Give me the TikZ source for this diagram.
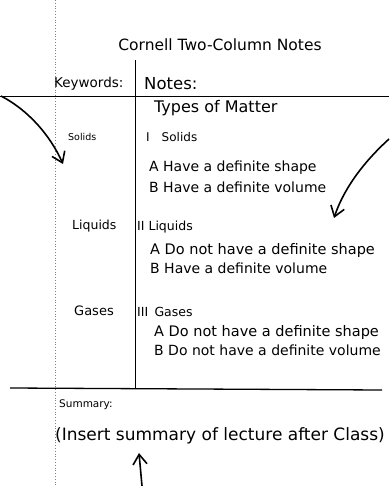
\documentclass[tikz,border=0pt]{standalone}
\usepackage{xcolor}
\usepackage{fontspec}
\setmainfont{DejaVu Sans}
\usepackage{tikz}
\usetikzlibrary{arrows.meta}

\begin{document}
\begin{tikzpicture}[x=1pt,y=-1pt,
		note/.style={anchor=west,inner sep=0pt,font=\fontsize{14}{16}\selectfont},
		keyword/.style={anchor=west,inner sep=0pt,font=\fontsize{10.5}{12}\selectfont},
		rule/.style={line width=1pt},
		pointer/.style={line width=1.6pt,-{Straight Barb[length=10pt,width=14pt,line width=1.6pt]}}]
		\useasboundingbox (0,0) rectangle (391,486);
		% margin line
		\draw[gray,dotted,line width=0.8pt] (55,0) -- (55,486);
		% title
		\node[font=\fontsize{15.5}{17}\selectfont] (title) at (220,45) {Cornell Two-Column Notes};
		% column headings
		\node[note,font=\fontsize{13.5}{15}\selectfont] (keywords) at (54,84) {Keywords:};
		\node[note,font=\fontsize{16.5}{18}\selectfont] (notes) at (144,84) {Notes:};
		% lines
		\coordinate (topL) at (0,97);
		\coordinate (topR) at (389,97);
		\coordinate (colT) at (135,60);
		\coordinate (colB) at (135,388);
		\coordinate (botL) at (10,388);
		\coordinate (botR) at (382,390);
		\draw[rule] (topL) -- (topR);
		\draw[rule] (colT) -- (colB);
		\draw[rule,line width=1.3pt] (botL) -- (botR);
		% notes column
		\node[note,font=\fontsize{16}{18}\selectfont] (types) at (154,108) {Types of Matter};
		\node[keyword,font=\fontsize{9.5}{11}\selectfont] (kSolids) at (68,137) {Solids};
		\node[note,font=\fontsize{12}{14}\selectfont] (solids) at (146,137) {I\quad Solids};
		\node[note] (solidsA) at (149,168) {A Have a definite shape};
		\node[note] (solidsB) at (149,187) {B Have a definite volume};
		\node[keyword,font=\fontsize{12.5}{14}\selectfont] (kLiquids) at (72,226) {Liquids};
		\node[note,font=\fontsize{12.5}{14}\selectfont] (liquids) at (137,227) {II Liquids};
		\node[note,font=\fontsize{14.5}{16}\selectfont] (liquidsA) at (150,250) {A Do not have a definite shape};
		\node[note] (liquidsB) at (150,268) {B Have a definite volume};
		\node[keyword,font=\fontsize{13}{15}\selectfont] (kGases) at (74,311) {Gases};
		\node[note,font=\fontsize{12.5}{14}\selectfont] (gases) at (137,312) {III\enspace Gases};
		\node[note,font=\fontsize{14.5}{16}\selectfont] (gasesA) at (154,332) {A Do not have a definite shape};
		\node[note] (gasesB) at (154,350) {B Do not have a definite volume};
		% summary
		\node[note,font=\fontsize{10.5}{12}\selectfont] (summary) at (59,405) {Summary:};
		\node[note,font=\fontsize{17}{19}\selectfont] (insert) at (55,436) {(Insert summary of lecture after Class)};
		% arrows
		\coordinate (lStart) at (1,96);
		\coordinate (lEnd) at (63,164);
		\coordinate (rStart) at (389,139);
		\coordinate (rEnd) at (334,218);
		\coordinate (bStart) at (142,486);
		\coordinate (bEnd) at (139,453);
		\draw[pointer] (lStart) .. controls (28,110) and (50,135) .. (lEnd);
		\draw[pointer] (rStart) .. controls (368,158) and (345,185) .. (rEnd);
		\draw[pointer] (bStart) -- (bEnd);
	\end{tikzpicture}
\end{document}
